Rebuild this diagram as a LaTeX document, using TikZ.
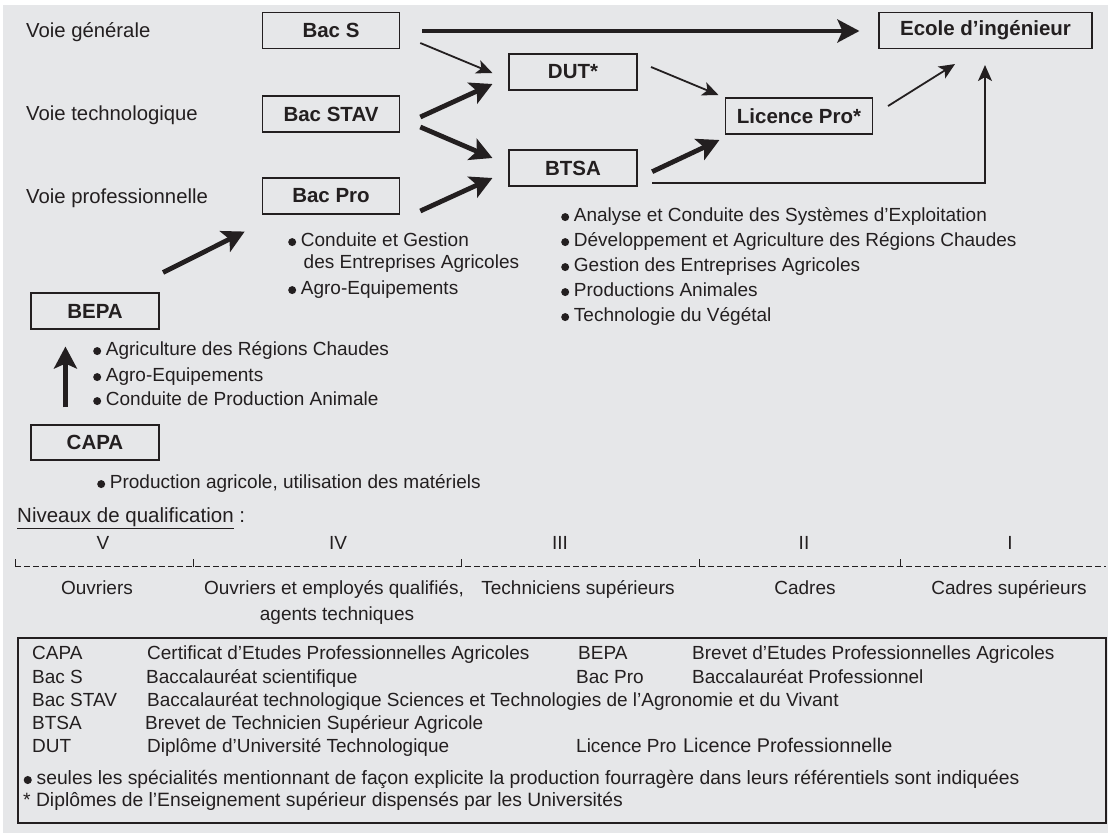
\documentclass[tikz,border=0pt]{standalone}
\usepackage{fontspec}
\setmainfont{Liberation Sans}
\usetikzlibrary{arrows.meta,calc}
\definecolor{bg}{HTML}{E6E7E9}
\definecolor{ink}{HTML}{231F20}
\newcommand{\blt}{\tikz[baseline=0pt]\fill[ink] (0,0.24em) circle (0.21em);\hspace{0.25em}}
\begin{document}
\begin{tikzpicture}[x=1pt,y=-1pt,
  every node/.style={text=ink, inner sep=0pt, font=\fontsize{19}{22}\selectfont},
  box/.style={draw=ink, line width=1.1pt, fill=bg, minimum height=36pt, font=\fontsize{20.5}{24}\selectfont\bfseries},
  lbl/.style={anchor=mid west},
  note/.style={anchor=mid west, font=\fontsize{19.3}{22}\selectfont},
  side/.style={anchor=mid west, font=\fontsize{20.3}{24}\selectfont},
  lvl/.style={anchor=mid},
  bigarrow/.style={draw=ink, line width=4.8pt, -{Stealth[length=22pt,width=23pt,inset=5pt]}},
  smallarrow/.style={draw=ink, line width=1.8pt, -{Stealth[length=16pt,width=14pt,inset=4pt]}},
  levelline/.style={draw=ink, line width=0.9pt, dash pattern=on 6pt off 3pt},
  tickline/.style={draw=ink, line width=0.9pt},
]
\useasboundingbox (0,0) rectangle (1108,833);
\fill[white] (0,0) rectangle (1108,833);
\fill[bg] (3,5) rectangle (1108,833);

% row labels
\node[side] (vg) at (26,35) {Voie générale};
\node[side] (vt) at (26,118) {Voie technologique};
\node[side] (vp) at (26,201) {Voie professionnelle};

% boxes
\node[box, minimum width=137.5pt] (bacS) at (331,30.5) {Bac S};
\node[box, minimum width=137.5pt] (bacSTAV) at (331,114) {Bac STAV};
\node[box, minimum width=137.5pt] (bacPro) at (331,196) {Bac Pro};
\node[box, minimum width=128pt] (dut) at (573,72) {DUT*};
\node[box, minimum width=128pt] (btsa) at (573,168) {BTSA};
\node[box, minimum width=147pt] (lp) at (799,116) {Licence Pro*};
\node[box, minimum width=213pt] (ecole) at (985.5,30.5) {Ecole d’ingénieur};
\node[box, minimum width=128pt] (bepa) at (95,311) {BEPA};
\node[box, minimum width=128pt, minimum height=35pt] (capa) at (95,442.5) {CAPA};

% arrows
\draw[bigarrow] ($(bacS.east)+(22,0.5)$) -- ($(ecole.west)+(-19,0.5)$);
\draw[smallarrow] ($(bacS.east)+(20,12.5)$) -- ($(dut.west)+(-16,1)$);
\draw[bigarrow] ($(bacSTAV.east)+(20,3)$) -- ($(dut.west)+(-16,12)$);
\draw[bigarrow] ($(bacSTAV.east)+(20,13)$) -- ($(btsa.west)+(-16,-10)$);
\draw[bigarrow] ($(bacPro.east)+(20,15)$) -- ($(btsa.west)+(-16,10)$);
\draw[smallarrow] ($(dut.east)+(13.5,-5)$) -- ($(lp.west)+(-6.5,-21)$);
\draw[bigarrow] ($(btsa.east)+(14.6,3.7)$) -- ($(lp.west)+(-5.5,24)$);
\draw[smallarrow] ($(lp.east)+(15,-10)$) -- ($(ecole.south)+(-30.5,15)$);
\draw[smallarrow] ($(btsa.east)+(14.6,14.7)$) -| ($(ecole.south)+(-0.5,16)$);
\draw[bigarrow] ($(bepa.north east)+(3.5,-20)$) -- ($(bacPro.south west)+(-17,17)$);
\draw[bigarrow] ($(capa.north west)+(35,-17)$) -- ($(bepa.south west)+(35,17)$);

% specialities
\node[lbl] (p1) at (288,244) {\blt Conduite et Gestion};
\node[lbl] (p2) at (303.5,266) {des Entreprises Agricoles};
\node[lbl] (p3) at (288,292) {\blt Agro-Equipements};

\node[lbl] (b1) at (93,353) {\blt Agriculture des Régions Chaudes};
\node[lbl] (b2) at (93,379) {\blt Agro-Equipements};
\node[lbl] (b3) at (93,403) {\blt Conduite de Production Animale};

\node[lbl] (c1) at (97,486) {\blt Production agricole, utilisation des matériels};

\node[lbl] (t1) at (561,219) {\blt Analyse et Conduite des Systèmes d’Exploitation};
\node[lbl] (t2) at (561,244) {\blt Développement et Agriculture des Régions Chaudes};
\node[lbl] (t3) at (561,269) {\blt Gestion des Entreprises Agricoles};
\node[lbl] (t4) at (561,294) {\blt Productions Animales};
\node[lbl] (t5) at (561,319) {\blt Technologie du Végétal};

% qualification levels
\node[lbl, font=\fontsize{20.5}{24}\selectfont] (niv) at (17,520) {\underline{Niveaux de qualification} :};
\draw[levelline] (15,566.5) -- (1106,566.5);
\foreach \tx in {15,193,461,699,900}
  \draw[tickline] (\tx,567) -- (\tx,559);
\node[lvl] (r5) at (103,547) {V};
\node[lvl] (r4) at (338,547) {IV};
\node[lvl] (r3) at (560,547) {III};
\node[lvl] (r2) at (804,547) {II};
\node[lvl] (r1) at (1010,547) {I};
\node[lvl] (l5) at (97,592) {Ouvriers};
\node[lvl] (l4) at (334,592) {Ouvriers et employés qualifiés,};
\node[lvl] (l4b) at (337,618) {agents techniques};
\node[lvl] (l3) at (578,592) {Techniciens supérieurs};
\node[lvl] (l2) at (805,592) {Cadres};
\node[lvl] (l1) at (1009,592) {Cadres supérieurs};

% legend
\draw[ink, line width=1.3pt] (18,638) rectangle (1106,823);
\node[lbl] (k1) at (32,657) {CAPA};
\node[lbl] (d1) at (147,657) {Certificat d’Etudes Professionnelles Agricoles};
\node[lbl] (k2) at (578,657) {BEPA};
\node[lbl] (d2) at (692,657) {Brevet d’Etudes Professionnelles Agricoles};
\node[lbl] (k3) at (32,681) {Bac S};
\node[lbl] (d3) at (146,681) {Baccalauréat scientifique};
\node[lbl] (k4) at (576,681) {Bac Pro};
\node[lbl] (d4) at (692,681) {Baccalauréat Professionnel};
\node[lbl] (k5) at (32,704) {Bac STAV};
\node[lbl] (d5) at (147,704) {Baccalauréat technologique Sciences et Technologies de l’Agronomie et du Vivant};
\node[lbl] (k6) at (32,727) {BTSA};
\node[lbl] (d6) at (145,727) {Brevet de Technicien Supérieur Agricole};
\node[lbl] (k7) at (32,750) {DUT};
\node[lbl] (d7) at (147,750) {Diplôme d’Université Technologique};
\node[lbl] (k8) at (576,750) {Licence Pro};
\node[lbl, font=\fontsize{19.8}{22}\selectfont] (d8) at (683,750) {Licence Professionnelle};
\node[note] (n1) at (23.5,782) {\blt seules les spécialités mentionnant de façon explicite la production fourragère dans leurs référentiels sont indiquées};
\node[note] (n2) at (23,804) {* Diplômes de l’Enseignement supérieur dispensés par les Universités};
\end{tikzpicture}
\end{document}
